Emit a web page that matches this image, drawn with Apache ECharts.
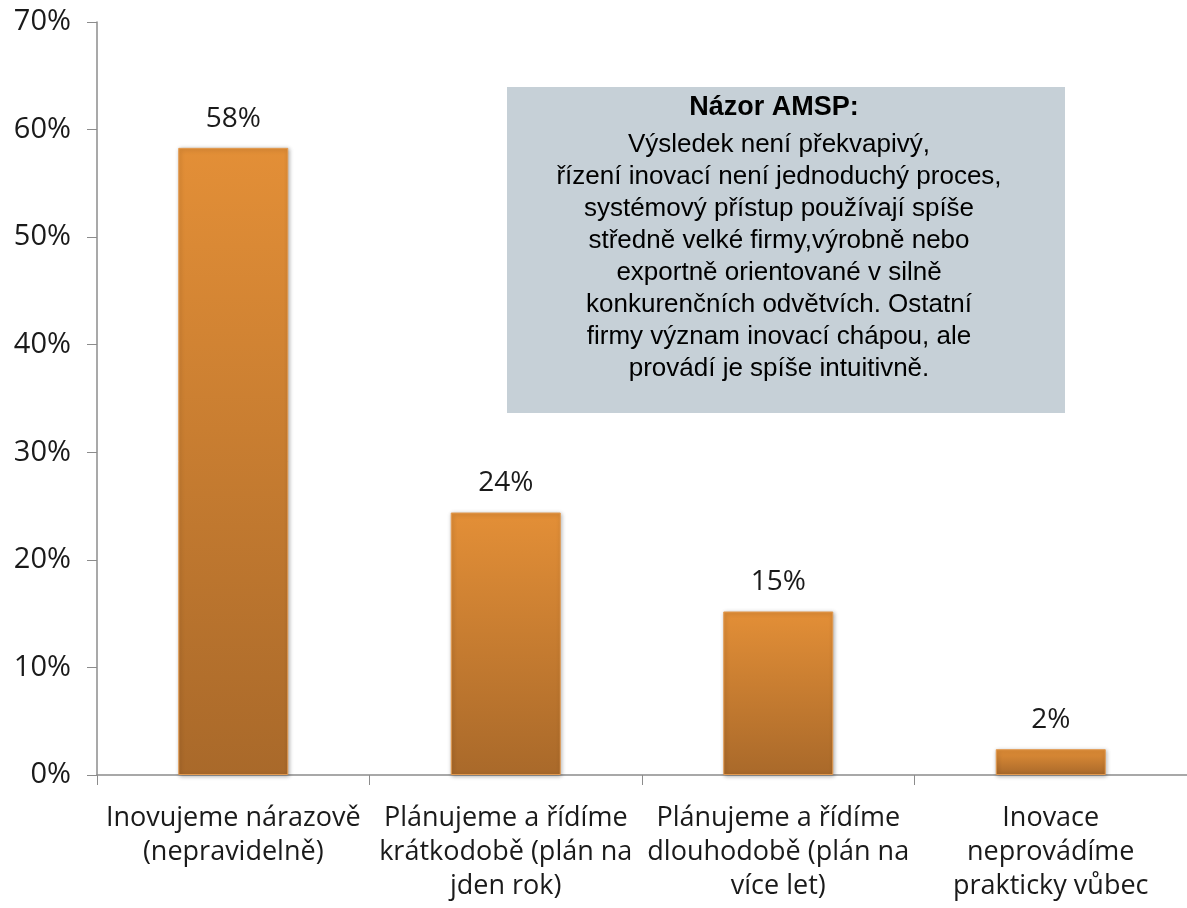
<!DOCTYPE html>
<html>
<head>
<meta charset="utf-8">
<script src="https://cdn.jsdelivr.net/npm/echarts@6/dist/echarts.min.js"></script>
<style>
  html, body { margin: 0; padding: 0; background: #fff; }
  #chart { width: 1187px; height: 908px; }
</style>
</head>
<body>
<div id="chart"></div>
<script>
// kategorie a hodnoty (v %)
const categories = [
  'Inovujeme nárazově\n(nepravidelně)',
  'Plánujeme a řídíme\nkrátkodobě (plán na\njden rok)',
  'Plánujeme a řídíme\ndlouhodobě (plán na\nvíce let)',
  'Inovace\nneprovádíme\nprakticky vůbec'
]
const values = [58.3, 24.4, 15.2, 2.4]
const valueLabels = ['58%', '24%', '15%', '2%']

const noteTitle = 'Názor AMSP:'
const noteLines = [
  'Výsledek není překvapivý,',
  'řízení inovací není jednoduchý proces,',
  'systémový přístup používají spíše',
  'středně velké firmy,výrobně nebo',
  'exportně orientované v silně',
  'konkurenčních odvětvích. Ostatní',
  'firmy význam inovací chápou, ale',
  'provádí je spíše intuitivně.'
]

const chart = echarts.init(document.getElementById('chart'))

const option = {
  backgroundColor: '#fff',
  animation: false,
  grid: { left: 97, top: 22, width: 1102, height: 753 },
  xAxis: {
    type: 'category',
    data: categories,
    axisLine: { lineStyle: { color: '#8c8c8c', width: 1.5 } },
    axisTick: { show: true, length: 10, lineStyle: { color: '#8c8c8c' } },
    axisLabel: {
      color: '#1a1a1a',
      fontFamily: 'Open Sans',
      fontSize: 27,
      lineHeight: 34,
      margin: 26,
      interval: 0
    }
  },
  yAxis: {
    type: 'value',
    min: 0,
    max: 70,
    interval: 10,
    splitLine: { show: false },
    axisLine: { show: true, lineStyle: { color: '#8c8c8c', width: 1.5 } },
    axisTick: { show: true, length: 10, lineStyle: { color: '#8c8c8c' } },
    axisLabel: {
      formatter: '{value}%',
      color: '#1a1a1a',
      fontFamily: 'Open Sans',
      fontSize: 29,
      margin: 26
    }
  },
  series: [{
    type: 'bar',
    data: values,
    barWidth: 110,
    itemStyle: {
      color: new echarts.graphic.LinearGradient(0, 0, 0, 1, [
        { offset: 0, color: '#E38F37' },
        { offset: 1, color: '#A9692A' }
      ]),
      borderColor: '#E29A50',
      borderWidth: 1,
      shadowColor: 'rgba(0,0,0,0.3)',
      shadowBlur: 4,
      shadowOffsetX: 1,
      shadowOffsetY: 1
    },
    label: {
      show: true,
      position: 'top',
      distance: 15,
      color: '#1a1a1a',
      fontFamily: 'Open Sans',
      fontSize: 28,
      formatter: p => valueLabels[p.dataIndex]
    }
  }],
  graphic: [{
    type: 'group',
    left: 507,
    top: 87,
    children: [
      {
        type: 'rect',
        shape: { x: 0, y: 0, width: 558, height: 326 },
        style: { fill: '#C6D0D7' }
      },
      {
        type: 'text',
        x: 267,
        y: 21,
        style: {
          text: noteTitle,
          fill: '#000',
          fontFamily: 'Liberation Sans',
          fontWeight: 'bold',
          fontSize: 27,
          align: 'center',
          verticalAlign: 'middle'
        }
      },
      {
        type: 'text',
        x: 272,
        y: 42,
        style: {
          text: noteLines.join('\n'),
          fill: '#000',
          fontFamily: 'Liberation Sans',
          fontSize: 26,
          lineHeight: 32,
          align: 'center',
          verticalAlign: 'top'
        }
      }
    ]
  }]
}

chart.setOption(option)
window.addEventListener('resize', () => chart.resize())
</script>
</body>
</html>
